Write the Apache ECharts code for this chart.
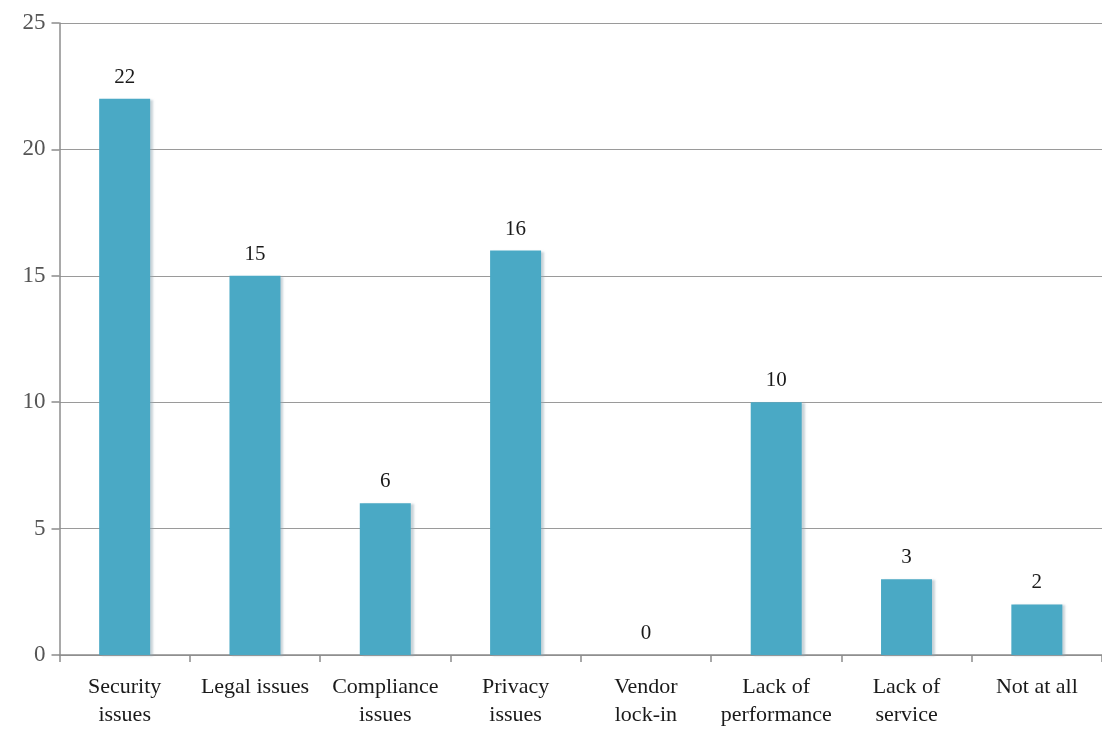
<!DOCTYPE html>
<html><head><meta charset="utf-8">
<script src="https://cdn.jsdelivr.net/npm/echarts@6/dist/echarts.min.js"></script>
<style>html,body{margin:0;padding:0;background:#fff}#c{width:1102px;height:729px}</style>
</head><body><div id="c"></div>
<script>
const categories = ["Security\nissues", "Legal issues", "Compliance\nissues", "Privacy\nissues", "Vendor\nlock-in", "Lack of\nperformance", "Lack of\nservice", "Not at all"];
const values = [22, 15, 6, 16, 0, 10, 3, 2];
const yTicks = [0, 5, 10, 15, 20, 25];

const chart = echarts.init(document.getElementById('c'));
chart.setOption({
  animation: false,
  backgroundColor: '#fff',
  grid: { left: 59.5, right: -1, top: 23, bottom: 71, containLabel: false },
  xAxis: {
    type: 'category', data: categories,
    axisLine: { lineStyle: { color: '#8c8c8c', width: 1.5 } },
    axisTick: { show: true, length: 7, lineStyle: { color: '#8c8c8c', width: 1.5 } },
    axisLabel: { color: '#1a1a1a', fontFamily: 'Liberation Serif', fontSize: 22, lineHeight: 28, margin: 18, interval: 0 }
  },
  yAxis: {
    type: 'value', min: yTicks[0], max: yTicks[yTicks.length - 1], interval: 5,
    axisLine: { show: true, lineStyle: { color: '#8c8c8c', width: 1.5 } },
    axisTick: { show: true, length: 8, lineStyle: { color: '#8c8c8c', width: 1.5 } },
    axisLabel: { color: '#555', fontFamily: 'Liberation Serif', fontSize: 23, margin: 14 },
    splitLine: { lineStyle: { color: '#9a9a9a', width: 1.2 } }
  },
  series: [{
    type: 'bar', data: values, barWidth: 51,
    itemStyle: { color: '#4AA9C5', shadowColor: 'rgba(150,170,180,0.5)', shadowOffsetX: 3, shadowOffsetY: 1, shadowBlur: 2 },
    label: { show: true, position: 'top', distance: 11, color: '#1a1a1a', fontFamily: 'Liberation Serif', fontSize: 21 }
  }]
});
</script></body></html>
